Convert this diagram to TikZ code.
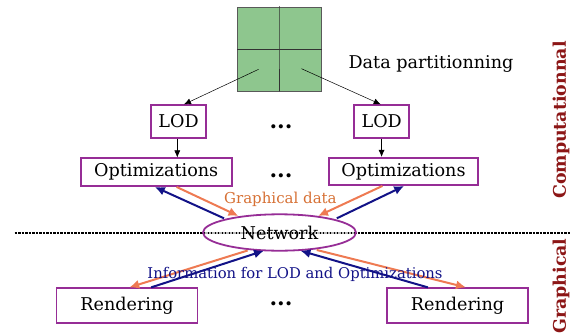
\documentclass[tikz,border=0pt]{standalone}
\usepackage{fontspec}
\setmainfont{DejaVu Serif}
\usetikzlibrary{arrows.meta,calc,shapes.geometric}
\definecolor{boxpurple}{RGB}{150,45,150}
\definecolor{arrorange}{RGB}{238,122,82}
\definecolor{arrblue}{RGB}{18,18,135}
\definecolor{txtorange}{RGB}{214,112,52}
\definecolor{gridgreen}{RGB}{142,198,142}
\definecolor{sidered}{RGB}{140,22,22}
\tikzset{
  pbox/.style={draw=boxpurple,line width=1.8pt,inner sep=0pt,font=\fontsize{17.6}{20}\selectfont},
  thinarr/.style={-{Latex[length=7pt,width=6pt]},line width=0.5pt,black},
  orarr/.style={-{Latex[length=10pt,width=9pt]},line width=2pt,arrorange},
  blarr/.style={-{Latex[length=10pt,width=9pt]},line width=2pt,arrblue},
  dots/.style={font=\fontsize{22}{24}\selectfont\bfseries},
  side/.style={rotate=90,font=\fontsize{17.4}{20}\selectfont\bfseries,text=sidered},
  sepline/.style={line width=1.6pt,dash pattern=on 2.5pt off 1pt}
}
\begin{document}
\begin{tikzpicture}[x=1pt,y=-1pt]
\useasboundingbox (0,0) rectangle (571,333);
% green partition square
\node[draw=gray!70!black,line width=0.6pt,fill=gridgreen,minimum width=84pt,minimum height=84pt,inner sep=0pt] (sq) at (279.5,49) {};
\draw[line width=0.6pt,black!80] (279.3,6) -- (sq.south);
\draw[line width=0.6pt,black!80] (sq.west) -- (sq.east);
\node[font=\fontsize{17.6}{20}\selectfont] (dp) at (431,63.5) {Data partitionning};
% LOD boxes
\node[pbox,minimum width=55pt,minimum height=32.5pt] (lodl) at (178.5,121.5) {LOD};
\node[pbox,minimum width=55pt,minimum height=32.5pt] (lodr) at (381.7,121.5) {LOD};
% Optimizations boxes
\node[pbox,minimum width=151pt,minimum height=27.7pt] (optl) at (156.2,172.2) {Optimizations};
\node[pbox,minimum width=149.4pt,minimum height=27.3pt] (optr) at (403.5,171.4) {Optimizations};
% Rendering boxes
\node[pbox,minimum width=141pt,minimum height=34.4pt] (renl) at (127,305.5) {Rendering};
\node[pbox,minimum width=141pt,minimum height=34.4pt] (renr) at (457.5,305.5) {Rendering};
% separator line
\draw[sepline,black] (14.6,233) -- (571,233);
\draw[sepline,gray!55] (205,233) -- (354,233);
% Network
\node[ellipse,draw=boxpurple,line width=1.8pt,minimum width=153pt,minimum height=36.4pt,inner sep=0pt,font=\fontsize{17.6}{20}\selectfont] (net) at (279.5,232.5) {Network};
% dots
\node[dots] (d1) at (281,127) {...};
\node[dots] (d2) at (281,176) {...};
\node[dots] (d3) at (281,304) {...};
% thin arrows
\coordinate (sa) at (258.6,69.3);
\coordinate (sb) at (301.5,68.7);
\draw[thinarr] (sa) -- ($(lodl.north)+(5.5,0)$);
\draw[thinarr] (sb) -- ($(lodr.north)+(-1,0)$);
\draw[thinarr] (lodl.south -| 177.3,0) -- (optl.north -| 177.3,0);
\draw[thinarr] (lodr.south -| 381.6,0) -- (optr.north -| 381.6,0);
% thick arrows top
\draw[orarr] ($(optl.south)+(20.4,0)$) -- ($(net.center)+(-41,-16.5)$);
\draw[blarr] ($(net.center)+(-55.5,-14.2)$) -- ($(optl.south)+(-1.4,0)$);
\draw[orarr] ($(optr.south)+(-21.1,0)$) -- ($(net.center)+(38.5,-16.5)$);
\draw[blarr] ($(net.center)+(57.3,-14.2)$) -- ($(optr.south)+(0.7,0)$);
% thick arrows bottom
\draw[orarr] ($(net.center)+(-31.9,18)$) -- ($(renl.north)+(2.3,0)$);
\draw[blarr] ($(renl.north)+(24.1,0)$) -- ($(net.center)+(-15.5,18.2)$);
\draw[orarr] ($(net.center)+(37.3,17.5)$) -- ($(renr.north)+(8.5,0)$);
\draw[blarr] ($(renr.north)+(-29.6,0)$) -- ($(net.center)+(20.9,18.2)$);
% labels
\node[font=\fontsize{15}{17}\selectfont,text=txtorange] (gd) at (280.4,199.3) {Graphical data};
\node[font=\fontsize{14.8}{17}\selectfont,text=arrblue] (info) at (295,274.3) {Information for LOD and Optimizations};
% side labels
\node[side] (comp) at (561,120) {Computationnal};
\node[side] (graph) at (561,286) {Graphical};
\end{tikzpicture}
\end{document}
